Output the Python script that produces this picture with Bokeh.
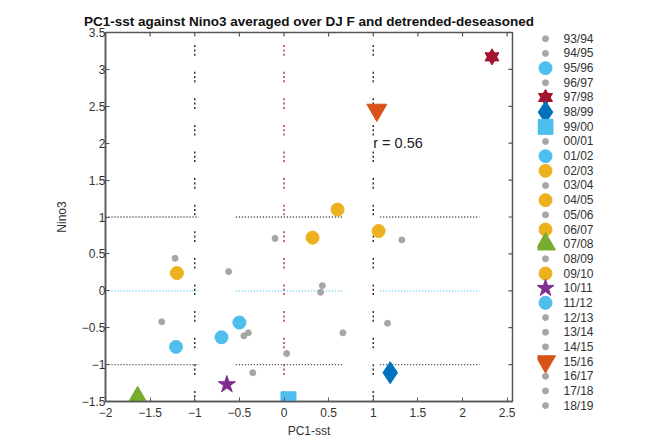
import math
from bokeh.plotting import figure
from bokeh.layouts import row, column
from bokeh.models import ColumnDataSource, Range1d, FixedTicker
from bokeh.core.properties import value
from bokeh.embed import file_html
from bokeh.resources import INLINE

# ---------------- data ----------------
seasons = ["93/94", "94/95", "95/96", "96/97", "97/98", "98/99", "99/00", "00/01",
           "01/02", "02/03", "03/04", "04/05", "05/06", "06/07", "07/08", "08/09",
           "09/10", "10/11", "11/12", "12/13", "13/14", "14/15", "15/16", "16/17",
           "17/18", "18/19"]
pc1_sst = [0.41, 1.32, -0.70, -0.45, 2.33, 1.19, 0.05, -1.37,
           -0.50, 0.32, 0.43, -1.20, -0.40, 1.06, -1.64, -0.35,
           0.60, -0.64, -1.21, 0.03, -0.62, -0.10, 1.04, 0.66,
           1.16, -1.22]
nino3 = [-0.02, 0.69, -0.63, -0.61, 3.17, -1.11, -1.47, -0.42,
         -0.43, 0.72, 0.07, 0.24, -0.57, 0.81, -1.45, -1.11,
         1.10, -1.27, -0.76, -0.85, 0.26, 0.71, 2.45, -0.57,
         -0.44, 0.44]
markers = ["dot", "dot", "circle", "dot", "hexagram", "diamond", "square", "dot",
           "circle", "circle", "dot", "circle", "dot", "circle", "triangle", "dot",
           "circle", "star", "circle", "dot", "dot", "dot", "inverted_triangle", "dot",
           "dot", "dot"]
colors = ["#a6a6a6", "#a6a6a6", "#4DBEEE", "#a6a6a6", "#A2142F", "#0072BD", "#4DBEEE", "#a6a6a6",
          "#4DBEEE", "#EDB120", "#a6a6a6", "#EDB120", "#a6a6a6", "#EDB120", "#77AC30", "#a6a6a6",
          "#EDB120", "#7E2F8E", "#4DBEEE", "#a6a6a6", "#a6a6a6", "#a6a6a6", "#D95319", "#a6a6a6",
          "#a6a6a6", "#a6a6a6"]
r_text = "r = 0.56"
r_pos = (1.0, 2.0)

x_ticks = [-2, -1.5, -1, -0.5, 0, 0.5, 1, 1.5, 2, 2.5]
y_ticks = [-1.5, -1, -0.5, 0, 0.5, 1, 1.5, 2, 2.5, 3, 3.5]
x_lim = (-2, 2.56)
y_lim = (-1.5, 3.5)

# reference lines
vlines_x = [-1, 0, 1]
vlines_color = ["#333333", "#c03048", "#333333"]
hlines_y = [1, 0, -1]
hlines_color = ["#333333", "#4DBEEE", "#333333"]
hline_segments = [(-2.0, -0.955), (-0.54, 0.656), (1.078, 2.19)]

# marker sizes (px) per marker type
size_map = {"dot": 6, "circle": 13, "hexagram": 14, "diamond": 22, "square": 15,
            "triangle": 20, "inverted_triangle": 20, "star": 18}

FONT = "Liberation Sans"
AX = "#555555"


def expand(xs, ys):
    rows = {"x": [], "y": [], "marker": [], "color": [], "size": []}
    for xv, yv, m, c in zip(xs, ys, markers, colors):
        parts = ["triangle", "inverted_triangle"] if m == "hexagram" else [m]
        for part in parts:
            rows["x"].append(xv)
            rows["y"].append(yv)
            rows["marker"].append("circle" if m == "dot" else part)
            rows["color"].append(c)
            rows["size"].append(size_map[m])
    return ColumnDataSource(rows)


# ---------------- main figure ----------------
p = figure(width=537, height=441, output_backend="svg", toolbar_location=None,
           x_range=Range1d(*x_lim), y_range=Range1d(*y_lim),
           min_border_left=105, min_border_right=25, min_border_top=32, min_border_bottom=40,
           x_axis_label="PC1-sst", y_axis_label="Nino3")
p.title.text = "PC1-sst against Nino3 averaged over DJ F and detrended-deseasoned"
p.title.align = "center"
p.title.text_font = FONT
p.title.text_font_size = "13.5px"
p.title.text_font_style = "bold"
p.title.text_color = "#111111"
p.title.standoff = 7
p.title.offset = 0
p.grid.visible = False
p.outline_line_color = AX
p.outline_line_width = 1.5

for ax, ticks in ((p.xaxis[0], x_ticks), (p.yaxis[0], y_ticks)):
    ax.ticker = FixedTicker(ticks=ticks)
    ax.major_tick_in = 4
    ax.major_tick_out = 0
    ax.minor_tick_line_color = None
    ax.axis_line_color = AX
    ax.axis_line_width = 1.5
    ax.major_tick_line_color = AX
    ax.major_label_text_font = FONT
    ax.major_label_text_font_size = "12px"
    ax.major_label_text_color = "#333333"
    ax.axis_label_text_font = FONT
    ax.axis_label_text_font_size = "12px"
    ax.axis_label_text_font_style = "normal"
    ax.axis_label_text_color = "#333333"
p.xaxis[0].major_label_standoff = 6
p.xaxis[0].axis_label_standoff = 4
p.yaxis[0].major_label_standoff = 0
p.yaxis[0].axis_label_standoff = 10

# inward ticks on the top and right edges of the box
p.scatter(x=x_ticks, y=[y_lim[1]] * len(x_ticks), marker="dash", angle=math.pi / 2,
          size=8, line_color=AX, line_width=1.2)
p.scatter(x=[x_lim[1]] * len(y_ticks), y=y_ticks, marker="dash",
          size=8, line_color=AX, line_width=1.2)

for vx, vc in zip(vlines_x, vlines_color):
    p.segment(x0=[vx], y0=[y_lim[0]], x1=[vx], y1=[y_lim[1]], line_color=vc,
              line_width=1.5, line_dash=value([2, 2.3, 2, 2.3, 2, 16]))
for hy, hc in zip(hlines_y, hlines_color):
    p.segment(x0=[s[0] for s in hline_segments], y0=[hy] * len(hline_segments),
              x1=[s[1] for s in hline_segments], y1=[hy] * len(hline_segments),
              line_color=hc, line_width=1.3, line_dash=value([1, 2]))

src = expand(pc1_sst, nino3)
p.scatter(x="x", y="y", marker="marker", size="size", fill_color="color",
          line_color="color", source=src)

p.text(x=[r_pos[0]], y=[r_pos[1]], text=[r_text], text_font=value(FONT),
       text_font_size="14.5px", text_color="#222222", text_baseline="middle",
       text_align="left")

# ---------------- legend figure ----------------
n = len(seasons)
lg = figure(width=126, height=441, output_backend="svg", toolbar_location=None,
            x_axis_type=None, y_axis_type=None,
            x_range=Range1d(0, 126), y_range=Range1d(27.45, -2.61),
            min_border_left=0, min_border_right=0, min_border_top=0, min_border_bottom=0)
lg.title = None
lg.grid.visible = False
lg.outline_line_color = None
idx = list(range(n))
lsrc = expand([8] * n, idx)
lg.scatter(x="x", y="y", marker="marker", size="size", fill_color="color",
           line_color="color", source=lsrc)
lg.text(x=[26] * n, y=idx, text=seasons, text_font=value(FONT), text_font_size="12px",
        text_color="#333333", text_baseline="middle", text_align="left")

layout = row(p, column(lg))
open("out.html", "w").write(file_html(layout, INLINE))
